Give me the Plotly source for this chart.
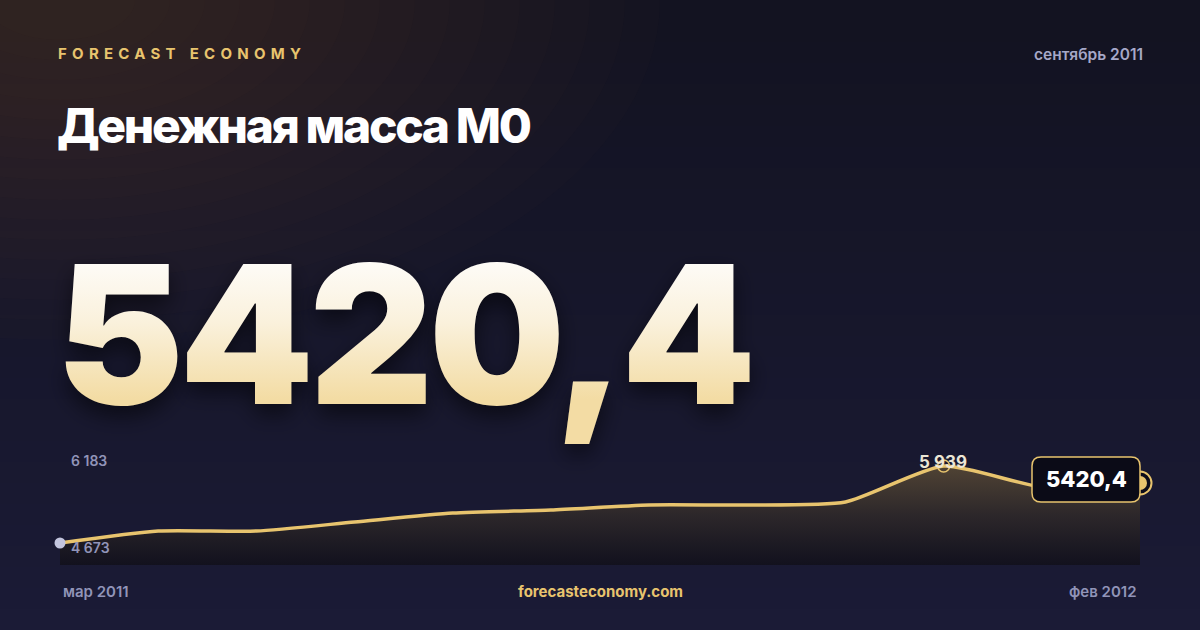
import plotly.graph_objects as go

W, H = 1200, 630

# ---- data ----
months = ["мар 2011", "апр 2011", "май 2011", "июн 2011", "июл 2011", "авг 2011",
          "сен 2011", "окт 2011", "ноя 2011", "дек 2011", "янв 2012", "фев 2012"]
values = [4673, 4870, 4870, 5018, 5166, 5216, 5298, 5298, 5347, 5939, 5594, 5660]
headline_value = "5420,4"
range_labels = ["6 183", "4 673"]
brand = "FORECAST ECONOMY"
title = "Денежная масса М0"
period = "сентябрь 2011"
site = "forecasteconomy.com"
peak_label = "5 939"

GOLD = "#e8c46e"
MUTED = "#9194b8"


def px(x):
    return x / W


def py(y):
    return 1 - y / H


fig = go.Figure()

xs = list(range(len(values)))
ylo, yhi = 4311, 6120

fig.add_trace(go.Scatter(
    x=xs, y=values, mode="lines",
    line=dict(color=GOLD, width=3.5, shape="spline", smoothing=0.6),
    fill="tozeroy",
    fillgradient=dict(type="vertical",
                      colorscale=[[0, "rgba(18,17,30,1)"], [0.5, "rgba(44,39,42,1)"], [1, "rgba(80,67,52,1)"]],
                      start=ylo, stop=max(values)),
    hoverinfo="skip", showlegend=False,
))
fig.add_trace(go.Scatter(x=[xs[0]], y=[values[0]], mode="markers",
                         marker=dict(size=11, color="#c3c5de"), cliponaxis=False,
                         showlegend=False, hoverinfo="skip"))
pk = values.index(max(values))
fig.add_trace(go.Scatter(x=[xs[pk]], y=[values[pk]], mode="markers",
                         marker=dict(size=12, color="rgba(0,0,0,0)", line=dict(color=GOLD, width=1.5)),
                         cliponaxis=False, showlegend=False, hoverinfo="skip"))
fig.add_trace(go.Scatter(x=[xs[-1]], y=[values[-1]], mode="markers",
                         marker=dict(size=23, color="#0c0c1a", line=dict(color=GOLD, width=2)),
                         cliponaxis=False, showlegend=False, hoverinfo="skip"))
fig.add_trace(go.Scatter(x=[xs[-1]], y=[values[-1]], mode="markers",
                         marker=dict(size=14, color=GOLD), cliponaxis=False,
                         showlegend=False, hoverinfo="skip"))

shapes = []
N = 30
for i in range(N):
    t = i / (N - 1)
    r = int(19 + (27 - 19) * t)
    g = int(19 + (27 - 19) * t)
    b = int(33 + (54 - 33) * t)
    shapes.append(dict(type="rect", xref="paper", yref="paper", x0=0, x1=1,
                       y0=1 - (i + 1) / N, y1=1 - i / N, fillcolor=f"rgb({r},{g},{b})",
                       line=dict(width=0), layer="below"))
for i in range(16):
    rx = 600 - i * 35
    ry = 340 - i * 20
    cx = 60
    shapes.append(dict(type="circle", xref="paper", yref="paper",
                       x0=px(cx - rx), x1=px(cx + rx), y0=py(ry), y1=py(-ry),
                       fillcolor="rgba(110,85,55,0.024)", line=dict(width=0), layer="below"))

bx0, bx1, by0, by1, rr = 1032, 1140, 457, 502, 9
path = (f"M {px(bx0 + rr)} {py(by0)} L {px(bx1 - rr)} {py(by0)} "
        f"Q {px(bx1)} {py(by0)} {px(bx1)} {py(by0 + rr)} L {px(bx1)} {py(by1 - rr)} "
        f"Q {px(bx1)} {py(by1)} {px(bx1 - rr)} {py(by1)} L {px(bx0 + rr)} {py(by1)} "
        f"Q {px(bx0)} {py(by1)} {px(bx0)} {py(by1 - rr)} L {px(bx0)} {py(by0 + rr)} "
        f"Q {px(bx0)} {py(by0)} {px(bx0 + rr)} {py(by0)} Z")
shapes.append(dict(type="path", xref="paper", yref="paper", path=path,
                   fillcolor="#0b0b17", line=dict(color=GOLD, width=1.5), layer="above"))

ann = []


def text(x, y, s, size, color, xanchor="left", weight=400, family="Inter", shadow="none"):
    ann.append(dict(x=px(x), y=py(y), xref="paper", yref="paper", text=s, showarrow=False,
                    xanchor=xanchor, yanchor="middle", align=xanchor if xanchor != "center" else "center",
                    font=dict(size=size, color=color, family=family, weight=weight, shadow=shadow)))


text(56, 53, brand, 15, GOLD, weight=700)
text(1145, 54, period, 15.5, "#a6a8c8", xanchor="right", weight=600)
text(55, 126, title, 48, "#ffffff", weight=800)
text(54, 334, headline_value, 192, "#f9efd5", weight=900, shadow="0px 10px 22px rgba(0,0,0,0.55)")
text(69, 461, range_labels[0], 14, MUTED, weight=600)
text(69, 547, range_labels[1], 14, MUTED, weight=600)
text(61, 591, months[0], 15, MUTED, weight=600)
text(1139, 591, months[-1], 15, MUTED, xanchor="right", weight=600)
text(600, 591, site, 15, GOLD, xanchor="center", weight=700)
text(943, 462, peak_label, 17, "#ece6d6", xanchor="center", weight=700)
text(1086, 479, headline_value, 22, "#ffffff", xanchor="center", weight=800)

fig.update_layout(
    width=W, height=H, margin=dict(l=0, r=0, t=0, b=0),
    paper_bgcolor="#161628", plot_bgcolor="rgba(0,0,0,0)",
    xaxis=dict(domain=[px(60), px(1140)], range=[0, len(values) - 1], visible=False, fixedrange=True),
    yaxis=dict(domain=[py(565), py(455)], range=[ylo, yhi], visible=False, fixedrange=True),
    shapes=shapes, annotations=ann, showlegend=False,
)

post = """
document.body.style.margin = '0';
document.body.style.background = '#161628';
var gd = document.getElementById('{plot_id}');
function fitSpacing(t, target) {
  t.style.letterSpacing = '0px';
  var w0 = t.getBBox().width;
  var n = t.textContent.length;
  var ls = (target - w0) / (n - 1);
  t.style.letterSpacing = ls + 'px';
}
function tweak() {
  var ns = 'http://www.w3.org/2000/svg';
  var svg = gd.querySelector('svg.main-svg');
  var defs = svg.querySelector('defs');
  if (!document.getElementById('numgrad')) {
    var lg = document.createElementNS(ns, 'linearGradient');
    lg.setAttribute('id', 'numgrad');
    lg.setAttribute('x1', '0'); lg.setAttribute('y1', '0');
    lg.setAttribute('x2', '0'); lg.setAttribute('y2', '1');
    [['0.15', '#fefdfb'], ['0.45', '#faf1dc'], ['0.78', '#f3dca4']].forEach(function (s) {
      var st = document.createElementNS(ns, 'stop');
      st.setAttribute('offset', s[0]); st.setAttribute('stop-color', s[1]);
      lg.appendChild(st);
    });
    defs.appendChild(lg);
  }
  gd.querySelectorAll('text.annotation-text').forEach(function (t) {
    var s = t.textContent;
    var fs = parseFloat(t.style.fontSize);
    if (s === 'FORECAST ECONOMY') { fitSpacing(t, 243); }
    else if (s === 'Денежная масса М0') { fitSpacing(t, 475); }
    else if (s === '5420,4' && fs > 100) {
      fitSpacing(t, 700);
      t.style.fill = 'url(#numgrad)';
    }
  });
}
tweak();
"""

fig.write_html("out.html", post_script=post, config={"displayModeBar": False})
